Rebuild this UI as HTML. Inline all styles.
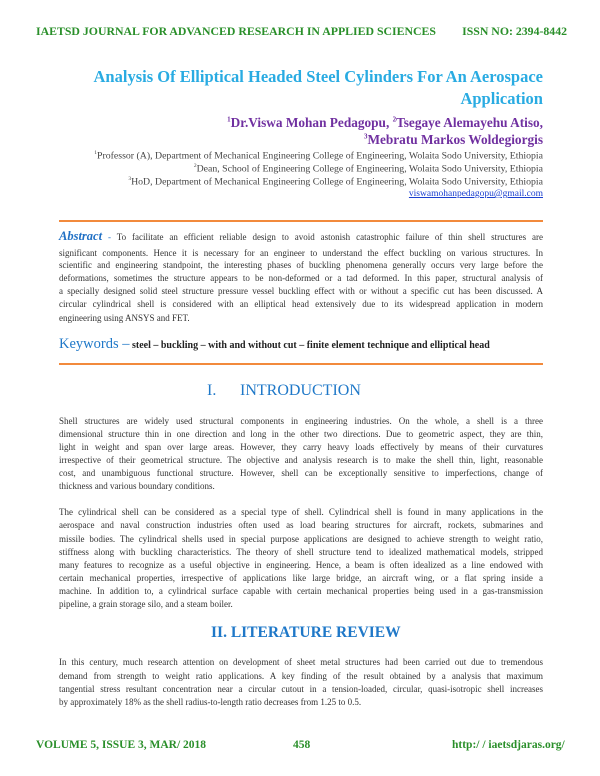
<!DOCTYPE html>
<html><head><meta charset="utf-8"><style>
body{margin:0;background:#fff;width:600px;height:776px;position:relative;overflow:hidden;font-family:"Liberation Serif",serif;color:#333}
.a{position:absolute;white-space:nowrap;line-height:1}
.l{position:absolute;left:59px;width:484px;font-size:9px;line-height:1;white-space:nowrap;text-align:justify;text-align-last:justify;color:#333}
.e{text-align-last:left}
.g{color:#2a8f2a;font-weight:bold;font-size:9px}
.r{right:57px;text-align:right}
.h{color:#1f78c8;font-size:16px}
</style></head><body>
<div class="a g" style="left:36px;top:26px;width:531px;font-size:11.8px"><span>IAETSD JOURNAL FOR ADVANCED RESEARCH IN APPLIED SCIENCES</span><span style="position:absolute;right:0">ISSN NO: 2394-8442</span></div>
<div class="a r" style="top:69px;font-size:16.5px;font-weight:bold;color:#29abe2">Analysis Of Elliptical Headed Steel Cylinders For An Aerospace</div>
<div class="a r" style="top:91px;font-size:16.5px;font-weight:bold;color:#29abe2">Application</div>
<div class="a r" style="top:116px;font-size:13.3px;font-weight:bold;color:#7030a0"><sup style="font-size:7px">1</sup>Dr.Viswa Mohan Pedagopu, <sup style="font-size:7px">2</sup>Tsegaye Alemayehu Atiso,</div>
<div class="a r" style="top:133px;font-size:13.3px;font-weight:bold;color:#7030a0"><sup style="font-size:7px">3</sup>Mebratu Markos Woldegiorgis</div>
<div class="a r" style="top:151px;font-size:9.8px;color:#444"><sup style="font-size:5.5px">1</sup>Professor (A), Department of Mechanical Engineering College of Engineering, Wolaita Sodo University, Ethiopia</div>
<div class="a r" style="top:164px;font-size:9.8px;color:#444"><sup style="font-size:5.5px">2</sup>Dean, School of Engineering College of Engineering, Wolaita Sodo University, Ethiopia</div>
<div class="a r" style="top:177px;font-size:9.8px;color:#444"><sup style="font-size:5.5px">3</sup>HoD, Department of Mechanical Engineering College of Engineering, Wolaita Sodo University, Ethiopia</div>
<div class="a r" style="top:190px;font-size:9.5px;color:#1a3fd0;text-decoration:underline">viswamohanpedagopu@gmail.com</div>
<div class="a" style="left:59px;top:220px;width:484px;height:2px;background:#f28a3c"></div>
<div class="l" style="top:230px"><b style="color:#1f6fc4;font-style:italic;font-size:12.5px">Abstract</b> <span style="color:#1f6fc4">-</span> To facilitate an efficient reliable design to avoid astonish catastrophic failure of thin shell structures are</div>
<div class="l" style="top:249px">significant components. Hence it is necessary for an engineer to understand the effect buckling on various structures. In</div>
<div class="l" style="top:261px">scientific and engineering standpoint, the interesting phases of buckling phenomena generally occurs very large before the</div>
<div class="l" style="top:274px">deformations, sometimes the structure appears to be non-deformed or a tad deformed. In this paper, structural analysis of</div>
<div class="l" style="top:287px">a specially designed solid steel structure pressure vessel buckling effect with or without a specific cut has been discussed. A</div>
<div class="l" style="top:300px">circular cylindrical shell is considered with an elliptical head extensively due to its widespread application in modern</div>
<div class="l e" style="top:314px">engineering using ANSYS and FET.</div>
<div class="a" style="left:59px;top:337px;font-size:10px;font-weight:bold;color:#222"><span style="color:#1f78c8;font-size:14.5px;font-weight:normal">Keywords –</span> steel – buckling – with and without cut – finite element technique and elliptical head</div>
<div class="a" style="left:59px;top:363px;width:484px;height:2px;background:#f28a3c"></div>
<div class="a h" style="left:207px;top:383px">I.</div>
<div class="a h" style="left:240px;top:383px">INTRODUCTION</div>
<div class="l" style="top:417px">Shell structures are widely used structural components in engineering industries. On the whole, a shell is a three</div>
<div class="l" style="top:430px">dimensional structure thin in one direction and long in the other two directions. Due to geometric aspect, they are thin,</div>
<div class="l" style="top:443px">light in weight and span over large areas. However, they carry heavy loads effectively by means of their curvatures</div>
<div class="l" style="top:456px">irrespective of their geometrical structure. The objective and analysis research is to make the shell thin, light, reasonable</div>
<div class="l" style="top:469px">cost, and unambiguous functional structure. However, shell can be exceptionally sensitive to imperfections, change of</div>
<div class="l e" style="top:482px">thickness and various boundary conditions.</div>
<div class="l" style="top:508px">The cylindrical shell can be considered as a special type of shell. Cylindrical shell is found in many applications in the</div>
<div class="l" style="top:521px">aerospace and naval construction industries often used as load bearing structures for aircraft, rockets, submarines and</div>
<div class="l" style="top:535px">missile bodies. The cylindrical shells used in special purpose applications are designed to achieve strength to weight ratio,</div>
<div class="l" style="top:548px">stiffness along with buckling characteristics. The theory of shell structure tend to idealized mathematical models, stripped</div>
<div class="l" style="top:561px">many features to recognize as a useful objective in engineering. Hence, a beam is often idealized as a line endowed with</div>
<div class="l" style="top:574px">certain mechanical properties, irrespective of applications like large bridge, an aircraft wing, or a flat spring inside a</div>
<div class="l" style="top:587px">machine. In addition to, a cylindrical surface capable with certain mechanical properties being used in a gas-transmission</div>
<div class="l e" style="top:600px">pipeline, a grain storage silo, and a steam boiler.</div>
<div class="a h" style="left:211px;top:625px;font-weight:bold;font-size:15.5px">II. LITERATURE REVIEW</div>
<div class="l" style="top:658px">In this century, much research attention on development of sheet metal structures had been carried out due to tremendous</div>
<div class="l" style="top:672px">demand from strength to weight ratio applications. A key finding of the result obtained by a analysis that maximum</div>
<div class="l" style="top:685px">tangential stress resultant concentration near a circular cutout in a tension-loaded, circular, quasi-isotropic shell increases</div>
<div class="l e" style="top:698px">by approximately 18% as the shell radius-to-length ratio decreases from 1.25 to 0.5.</div>
<div class="a g" style="left:36px;top:740px;font-size:11.5px">VOLUME 5, ISSUE 3, MAR/ 2018</div>
<div class="a g" style="left:293px;top:740px;font-size:11.5px">458</div>
<div class="a g" style="left:452px;top:740px;font-size:11.5px">http:/ / iaetsdjaras.org/</div>
</body></html>
